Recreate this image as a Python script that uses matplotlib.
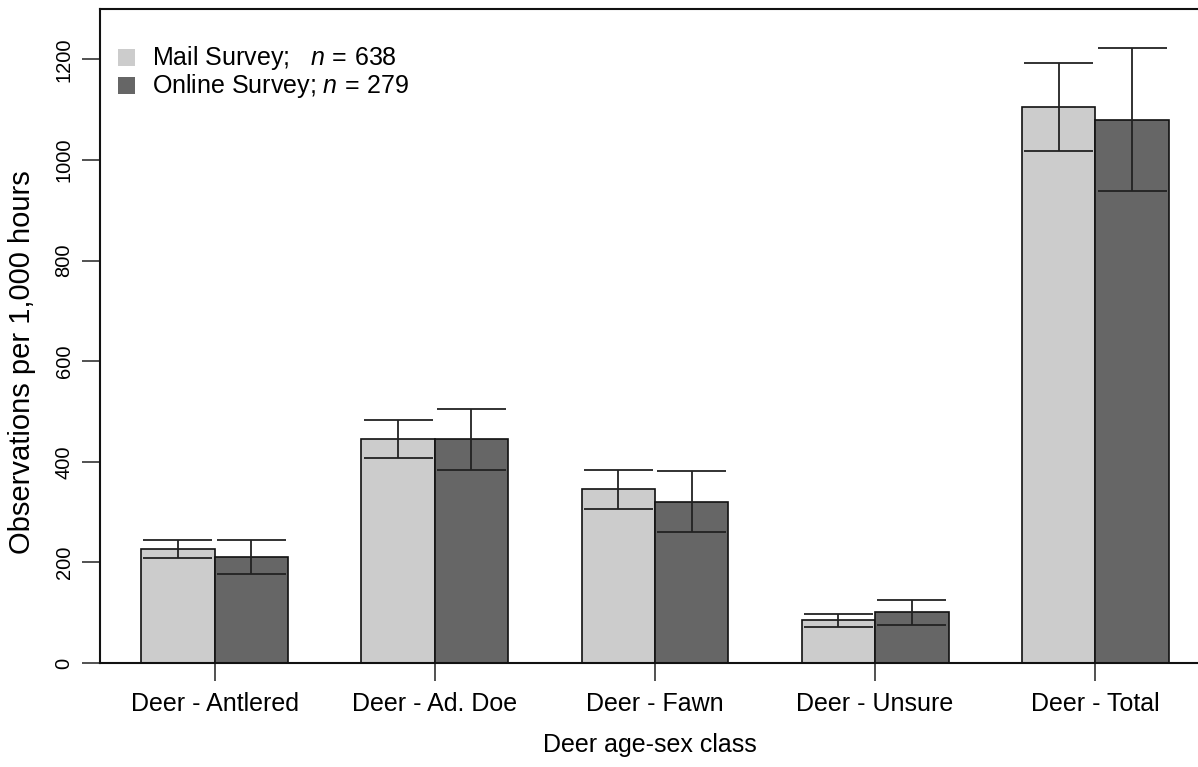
import matplotlib
matplotlib.use("Agg")
import matplotlib.pyplot as plt
from matplotlib.patches import Rectangle
import numpy as np

plt.rcParams['font.family'] = ['Liberation Sans', 'DejaVu Sans']
plt.rcParams['mathtext.fontset'] = 'custom'
plt.rcParams['mathtext.rm'] = 'Liberation Sans'
plt.rcParams['mathtext.it'] = 'Liberation Sans:italic'

categories = ["Deer - Antlered", "Deer - Ad. Doe", "Deer - Fawn", "Deer - Unsure", "Deer - Total"]
mail_mean = [226, 445, 346, 85, 1105]
mail_lower = [208, 407, 307, 72, 1017]
mail_upper = [244, 484, 383, 98, 1193]
online_mean = [211, 446, 321, 101, 1080]
online_lower = [177, 384, 261, 76, 938]
online_upper = [244, 505, 381, 125, 1222]
yticks = [0, 200, 400, 600, 800, 1000, 1200]
legend_labels = [r"Mail Survey;   $\it{n}$$\,=\,$638", r"Online Survey; $\it{n}$$\,=\,$279"]

W, H = 1198, 767
fig = plt.figure(figsize=(W / 100, H / 100), dpi=100)
left_px, top_px, bottom_px = 100, 9, 663
xmin, xmax = 0.44, 15.56
px_per_unit = 73.4
width_px = (xmax - xmin) * px_per_unit
ax = fig.add_axes([left_px / W, (H - bottom_px) / H, width_px / W, (bottom_px - top_px) / H])

n = len(categories)
group_start = np.arange(n) * 3 + 1.0
mail_x = group_start + 0.5
online_x = group_start + 1.5

ax.bar(mail_x, mail_mean, width=1.0, color="#cccccc", edgecolor="#111111", linewidth=1.2, zorder=2)
ax.bar(online_x, online_mean, width=1.0, color="#666666", edgecolor="#111111", linewidth=1.2, zorder=2)

cap = 0.47
for xs, lo, hi in [(mail_x, mail_lower, mail_upper), (online_x, online_lower, online_upper)]:
    ax.vlines(xs, lo, hi, color="#222222", linewidth=1.3, zorder=3)
    ax.hlines(lo, xs - cap, xs + cap, color="#222222", linewidth=1.3, zorder=3)
    ax.hlines(hi, xs - cap, xs + cap, color="#222222", linewidth=1.3, zorder=3)

ax.set_xlim(xmin, xmax)
ax.set_ylim(0, 1300)
ax.set_yticks(yticks)
ax.set_yticklabels([str(v) for v in yticks], rotation=90, va="center", fontsize=14.5)
ax.set_xticks(group_start + 1.0)
ax.set_xticklabels(categories, fontsize=18)
ax.tick_params(axis="both", length=13, width=1.2, color="#333333")
ax.tick_params(axis="x", pad=8)
ax.tick_params(axis="y", pad=6)
for s in ax.spines.values():
    s.set_linewidth(1.5)
    s.set_color("#111111")

fig.text(22 / W, 1 - 362 / H, "Observations per 1,000 hours", rotation=90, fontsize=21,
         ha="center", va="center")
fig.text((left_px + 550) / W, 1 - 745 / H, "Deer age-sex class", fontsize=18, ha="center", va="center")

for i, (lab, col) in enumerate(zip(legend_labels, ["#cccccc", "#666666"])):
    ytop = 49 + i * 28
    fig.patches.append(Rectangle((118 / W, 1 - (ytop + 17) / H), 17 / W, 17 / H,
                                 transform=fig.transFigure, facecolor=col, edgecolor="none"))
    fig.text(152 / W, 1 - (ytop + 9) / H, lab, fontsize=18, ha="left", va="center")

fig.savefig("out.png", dpi=100)
